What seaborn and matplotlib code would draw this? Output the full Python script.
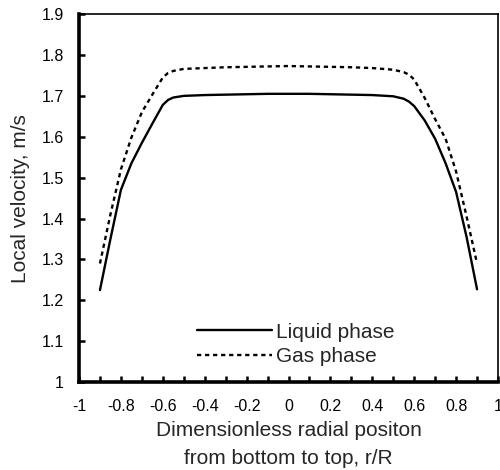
import numpy as np
import pandas as pd
import matplotlib
matplotlib.use('Agg')
import matplotlib.pyplot as plt
import seaborn as sns
from matplotlib.ticker import MultipleLocator, FuncFormatter

# radial position r/R
r_pos = [-0.9, -0.85, -0.8, -0.75, -0.7, -0.65, -0.6, -0.575, -0.55, -0.5, -0.4, -0.3, -0.2, -0.1, 0.0,
         0.1, 0.2, 0.3, 0.4, 0.5, 0.55, 0.575, 0.6, 0.65, 0.7, 0.75, 0.8, 0.85, 0.9]
# liquid phase local velocity (m/s)
liquid = [1.225, 1.35, 1.47, 1.535, 1.585, 1.632, 1.678, 1.690, 1.696, 1.700, 1.702, 1.703, 1.704, 1.705, 1.705,
          1.705, 1.704, 1.703, 1.702, 1.699, 1.693, 1.686, 1.675, 1.64, 1.595, 1.535, 1.465, 1.355, 1.227]
# gas phase local velocity (m/s)
gas = [1.29, 1.41, 1.52, 1.598, 1.66, 1.703, 1.745, 1.756, 1.761, 1.766, 1.768, 1.770, 1.771, 1.772, 1.773,
       1.772, 1.771, 1.770, 1.768, 1.764, 1.758, 1.752, 1.74, 1.695, 1.643, 1.595, 1.515, 1.405, 1.29]

df = pd.DataFrame({'r': r_pos, 'liquid': liquid, 'gas': gas})

sns.set_style('ticks')
plt.rcParams['font.family'] = ['Liberation Sans', 'DejaVu Sans']

fig = plt.figure(figsize=(5, 4.7), dpi=100)
ax = fig.add_axes([0.158, 0.187, 0.838, 0.783])

sns.lineplot(data=df, x='r', y='liquid', ax=ax, color='black', linewidth=1.7,
             label='Liquid phase')
sns.lineplot(data=df, x='r', y='gas', ax=ax, color='black', linewidth=1.7,
             linestyle=(0, (1.8, 1.6)), label='Gas phase')

ax.set_xlim(-1, 1)
ax.set_ylim(1, 1.9)
ax.xaxis.set_major_locator(MultipleLocator(0.2))
ax.xaxis.set_minor_locator(MultipleLocator(0.1))
ax.yaxis.set_major_locator(MultipleLocator(0.1))

def fmt(v, pos):
    s = '{:.1f}'.format(v)
    if abs(v - round(v)) < 1e-9:
        s = '{:d}'.format(int(round(v)))
    if s == '-0.0':
        s = '0'
    return s

ax.xaxis.set_major_formatter(FuncFormatter(fmt))
ax.yaxis.set_major_formatter(FuncFormatter(fmt))

ax.tick_params(axis='both', which='both', direction='in', length=4, width=1.8,
               labelsize=11.5, colors='black')
ax.tick_params(axis='x', pad=12)
ax.tick_params(axis='y', pad=11)

for side in ['left', 'bottom']:
    ax.spines[side].set_linewidth(2.6)
for side in ['top', 'right']:
    ax.spines[side].set_linewidth(1.2)
for s in ax.spines.values():
    s.set_color('black')

ax.set_xlabel('Dimensionless radial positon\nfrom bottom to top, r/R', fontsize=15,
              labelpad=5, linespacing=1.6)
ax.set_ylabel('Local velocity, m/s', fontsize=15, labelpad=8)

ax.legend(loc='center left', bbox_to_anchor=(0.282, 0.103), frameon=False, fontsize=15,
          handlelength=3.6, handletextpad=0.2, borderpad=0, labelspacing=0.25,
          borderaxespad=0)

fig.savefig('out.png', dpi=100)
